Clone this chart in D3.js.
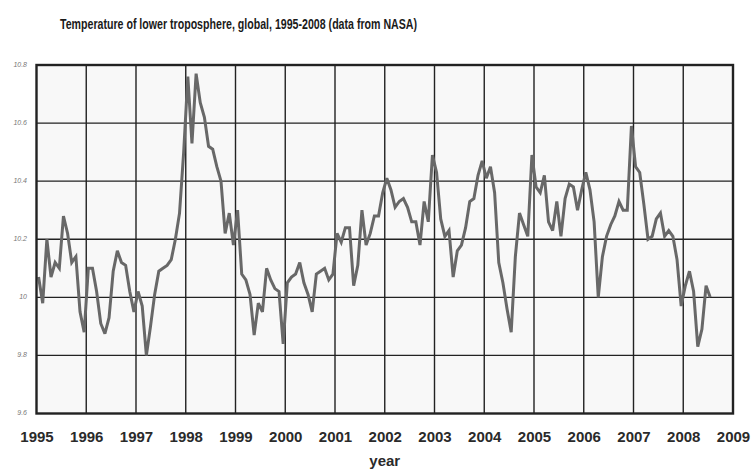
<!DOCTYPE html>
<html>
<head>
<meta charset="utf-8">
<script src="https://cdn.jsdelivr.net/npm/d3@7/dist/d3.min.js"></script>
<style>
  html, body { margin: 0; padding: 0; background: #ffffff; }
  svg { display: block; }
</style>
</head>
<body>
<svg id="chart" width="751" height="469"></svg>
<script>
// Monthly global lower-troposphere temperature, Jan 1995 – Jul 2008
const startYear = 1995;
const monthlyTemp = [
  // 1995
  10.07, 9.98, 10.20, 10.07, 10.12, 10.10, 10.28, 10.22, 10.12, 10.14, 9.95, 9.88,
  // 1996
  10.10, 10.10, 10.02, 9.91, 9.875, 9.93, 10.09, 10.16, 10.12, 10.11, 10.02, 9.95,
  // 1997
  10.02, 9.97, 9.80, 9.90, 10.01, 10.09, 10.10, 10.11, 10.13, 10.20, 10.29, 10.50,
  // 1998
  10.76, 10.53, 10.77, 10.67, 10.62, 10.52, 10.51, 10.45, 10.40, 10.22, 10.29, 10.18,
  // 1999
  10.30, 10.08, 10.06, 10.01, 9.87, 9.98, 9.95, 10.10, 10.06, 10.03, 10.02, 9.84,
  // 2000
  10.05, 10.07, 10.08, 10.12, 10.05, 10.01, 9.95, 10.08, 10.09, 10.10, 10.06, 10.08,
  // 2001
  10.22, 10.19, 10.24, 10.24, 10.04, 10.11, 10.30, 10.18, 10.22, 10.28, 10.28, 10.36,
  // 2002
  10.41, 10.37, 10.31, 10.33, 10.34, 10.31, 10.26, 10.26, 10.18, 10.33, 10.26, 10.49,
  // 2003
  10.43, 10.27, 10.21, 10.23, 10.07, 10.16, 10.18, 10.24, 10.33, 10.34, 10.42, 10.47,
  // 2004
  10.41, 10.45, 10.36, 10.12, 10.05, 9.96, 9.88, 10.14, 10.29, 10.25, 10.21, 10.49,
  // 2005
  10.38, 10.36, 10.42, 10.26, 10.23, 10.33, 10.21, 10.34, 10.39, 10.38, 10.30, 10.37,
  // 2006
  10.43, 10.37, 10.26, 10.00, 10.14, 10.21, 10.25, 10.28, 10.33, 10.30, 10.30, 10.59,
  // 2007
  10.45, 10.43, 10.32, 10.20, 10.21, 10.27, 10.29, 10.21, 10.23, 10.21, 10.13, 9.97,
  // 2008
  10.04, 10.09, 10.02, 9.83, 9.89, 10.04, 10.00
];

const yearTicks = [1995, 1996, 1997, 1998, 1999, 2000, 2001, 2002, 2003, 2004, 2005, 2006, 2007, 2008, 2009];
const tempTicks = [9.6, 9.8, 10.0, 10.2, 10.4, 10.6, 10.8];
const titleText = "Temperature of lower troposphere, global, 1995-2008 (data from NASA)";
const xLabel = "year";

// series points placed at mid-month
const series = monthlyTemp.map((v, i) => ({ t: startYear + (i + 0.5) / 12, v }));

const plot = { left: 36.5, right: 733, top: 65, bottom: 413.5 };

const x = d3.scaleLinear().domain([1995, 2009]).range([plot.left, plot.right]);
const y = d3.scaleLinear().domain([9.6, 10.8]).range([plot.bottom, plot.top]);

const svg = d3.select("#chart");

// title
svg.append("text")
  .attr("x", 60)
  .attr("y", 28.5)
  .attr("textLength", 357)
  .attr("lengthAdjust", "spacingAndGlyphs")
  .style("font-family", "'Liberation Sans Narrow', 'Liberation Sans', Arial, sans-serif")
  .style("font-weight", "bold")
  .style("font-size", "15px")
  .style("fill", "#1a1a1a")
  .text(titleText);

// plot background
svg.append("rect")
  .attr("x", plot.left).attr("y", plot.top)
  .attr("width", plot.right - plot.left)
  .attr("height", plot.bottom - plot.top)
  .attr("fill", "#f8f8f8");

// grid
const grid = svg.append("g").attr("stroke", "#222").attr("stroke-width", 1.4);
grid.selectAll("line.v")
  .data(yearTicks.slice(1, -1))
  .join("line")
  .attr("class", "v")
  .attr("x1", d => x(d)).attr("x2", d => x(d))
  .attr("y1", plot.top).attr("y2", plot.bottom);
grid.selectAll("line.h")
  .data(tempTicks.slice(1, -1))
  .join("line")
  .attr("class", "h")
  .attr("x1", plot.left).attr("x2", plot.right)
  .attr("y1", d => y(d)).attr("y2", d => y(d));

// temperature line
const line = d3.line().x(d => x(d.t)).y(d => y(d.v));
svg.append("path")
  .datum(series)
  .attr("d", line)
  .attr("fill", "none")
  .attr("stroke", "#686868")
  .attr("stroke-width", 3)
  .attr("stroke-linejoin", "miter")
  .attr("stroke-miterlimit", 3);

// frame
svg.append("rect")
  .attr("x", plot.left).attr("y", plot.top)
  .attr("width", plot.right - plot.left)
  .attr("height", plot.bottom - plot.top)
  .attr("fill", "none")
  .attr("stroke", "#222")
  .attr("stroke-width", 2.4);

// x axis labels
const xAxis = d3.axisBottom(x)
  .tickValues(yearTicks)
  .tickFormat(d3.format("d"))
  .tickSize(0)
  .tickPadding(0);
const gx = svg.append("g")
  .attr("transform", `translate(0, 431)`)
  .call(xAxis);
gx.select(".domain").remove();
gx.selectAll("text")
  .attr("dy", "0.72em")
  .style("font-family", "'Liberation Sans', Arial, sans-serif")
  .style("font-weight", "bold")
  .style("font-size", "15px")
  .style("fill", "#2a2a2a");

// y axis labels
const yAxis = d3.axisLeft(y)
  .tickValues(tempTicks)
  .tickFormat(d => String(+d.toFixed(1)))
  .tickSize(0)
  .tickPadding(0);
const gy = svg.append("g")
  .attr("transform", `translate(27, 0)`)
  .call(yAxis);
gy.select(".domain").remove();
gy.selectAll("text")
  .attr("dy", "0.2em")
  .style("font-family", "'Liberation Sans', Arial, sans-serif")
  .style("font-style", "italic")
  .style("font-size", "7px")
  .style("fill", "#777");

// x axis title
svg.append("text")
  .attr("x", (plot.left + plot.right) / 2)
  .attr("y", 465.5)
  .attr("text-anchor", "middle")
  .style("font-family", "'Liberation Sans', Arial, sans-serif")
  .style("font-weight", "bold")
  .style("font-size", "15px")
  .style("fill", "#2a2a2a")
  .text(xLabel);
</script>
</body>
</html>
